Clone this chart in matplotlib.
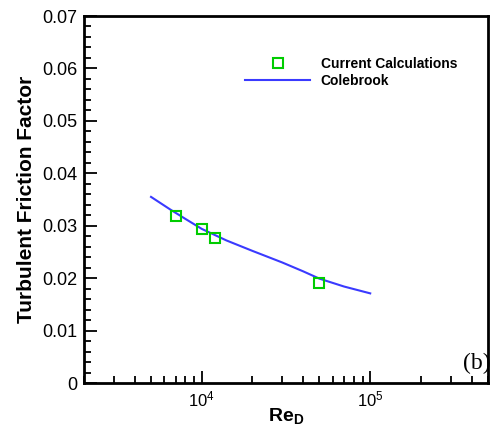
import numpy as np
import matplotlib
matplotlib.use("Agg")
import matplotlib.pyplot as plt
from matplotlib.lines import Line2D
from matplotlib.ticker import LogLocator, MultipleLocator, NullFormatter

plt.rcParams["font.family"] = "Liberation Sans"
plt.rcParams["mathtext.fontset"] = "custom"
plt.rcParams["mathtext.rm"] = "Liberation Sans"
plt.rcParams["mathtext.bf"] = "Liberation Sans:bold"

# current calculations (squares)
re_calc = [7000, 10000, 12000, 50000]
f_calc = [0.0319, 0.0293, 0.0276, 0.0191]

# Colebrook curve
re_cb = [5000, 6500, 8000, 10000, 14000, 20000, 30000, 40000, 50000, 70000, 100000]
f_cb = [0.0355, 0.0331, 0.0313, 0.0294, 0.0272, 0.0252, 0.0230, 0.0213, 0.0199, 0.0184, 0.0171]

BLUE, GREEN = "#3a3aff", "#00cc00"

fig = plt.figure(figsize=(4.92, 4.28), dpi=100)
ax = fig.add_axes([0.1707, 0.1051, 0.8211, 0.8575])

ax.plot(re_cb, f_cb, color=BLUE, lw=1.5, label="Colebrook")
ax.plot(re_calc, f_calc, ls="none", marker="s", ms=7.5, mfc="none",
        mec=GREEN, mew=1.5, label="Current Calculations")

ax.set_xscale("log")
ax.set_xlim(2000, 500000)
ax.set_ylim(0, 0.07)
ax.yaxis.set_major_locator(MultipleLocator(0.01))
ax.yaxis.set_minor_locator(MultipleLocator(0.002))
ax.yaxis.set_major_formatter(matplotlib.ticker.FuncFormatter(
    lambda v, p: "0" if abs(v) < 1e-9 else f"{v:.2f}"))
ax.xaxis.set_major_locator(LogLocator(base=10, numticks=10))
ax.xaxis.set_minor_locator(LogLocator(base=10, subs=np.arange(2, 10), numticks=20))
ax.xaxis.set_minor_formatter(NullFormatter())

for s in ax.spines.values():
    s.set_linewidth(2)
    s.set_zorder(5)
ax.tick_params(which="both", direction="in", top=False, right=False,
               width=1.3, labelsize=12, pad=5)
ax.tick_params(axis="y", labelsize=13)
ax.tick_params(which="major", length=9)
ax.tick_params(which="minor", length=5)

ax.set_xlabel(r"$\mathbf{Re}_\mathbf{D}$", fontsize=14, labelpad=-2)
ax.set_ylabel("Turbulent Friction Factor", fontsize=15, fontweight="bold",
              labelpad=4)

handles = [Line2D([], [], ls="none", marker="s", ms=7.5, mfc="none",
                  mec=GREEN, mew=1.5),
           Line2D([], [], color=BLUE, lw=1.5)]
ax.legend(handles, ["Current Calculations", "Colebrook"], loc="upper left",
          bbox_to_anchor=(0.399, 0.889), frameon=False, borderpad=0,
          borderaxespad=0, handlelength=4.7, handletextpad=0.75,
          labelspacing=0.25, prop={"weight": "bold", "size": 10})

ax.text(0.938, 0.038, "(b)", transform=ax.transAxes, fontsize=17,
        family="Liberation Serif", ha="left", va="baseline", clip_on=False,
        zorder=1)

fig.savefig("out.png", dpi=100)
